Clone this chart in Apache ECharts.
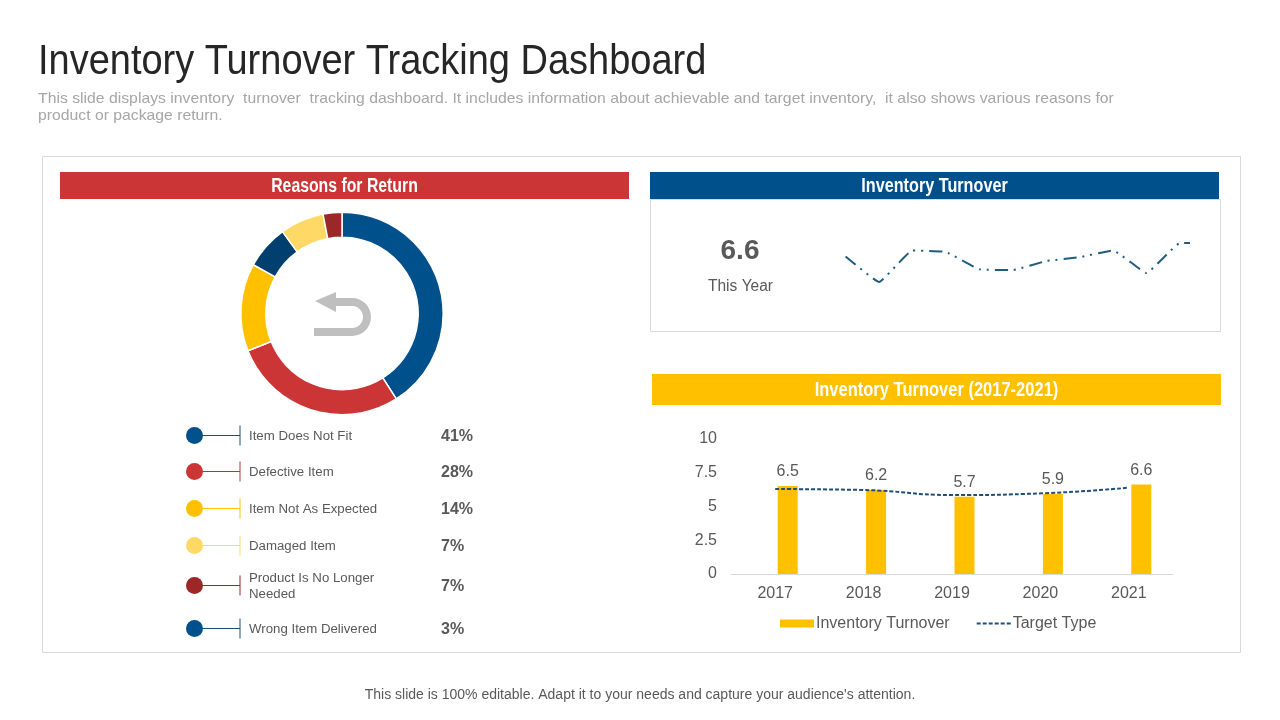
<![CDATA[<!DOCTYPE html>
<html>
<head>
<meta charset="utf-8">
<title>Inventory Turnover Tracking Dashboard</title>
<script src="https://cdn.jsdelivr.net/npm/echarts@6/dist/echarts.min.js"></script>
<style>
html, body { margin: 0; padding: 0; background: #fff; }
#chart { width: 1280px; height: 720px; }
</style>
</head>
<body>
<div id="chart"></div>
<script>
// return reasons
var reasonNames = ['Item Does Not Fit', 'Defective Item', 'Item Not As Expected', 'Damaged Item', 'Product Is No Longer\nNeeded', 'Wrong Item Delivered'];
var reasonValues = [41, 28, 14, 7, 7, 3];
var donutColors = ['#00508c', '#cc3535', '#ffc000', '#003f6e', '#ffd966', '#9c2727'];
var legendColors = ['#00508c', '#cc3535', '#ffc000', '#ffd966', '#9c2727', '#00508c'];
var stemColors = ['#1f4e79', '#a83a3a', '#ffc000', '#ffd966', '#8f2a2a', '#1f4e79'];

// inventory turnover, this year sparkline
var sparkValue = '6.6';
var sparkSteps = [0, 1, 2, 3, 4, 5, 6, 7, 8, 9, 10, 10.3];
var sparkValues = [5.7, 4.0, 6.1, 6.0, 4.85, 4.8, 5.4, 5.65, 6.1, 4.6, 6.6, 6.6];

// inventory turnover 2017-2021
var years = ['2017', '2018', '2019', '2020', '2021'];
var turnover = [6.5, 6.2, 5.7, 5.9, 6.6];
var targetType = [6.27, 6.2, 5.83, 5.95, 6.37];

var grey = '#595959';
var sans = '"Liberation Sans", Arial, sans-serif';

function label(x, y, text, size, opts) {
    opts = opts || {};
    var style = {
        text: text,
        fill: opts.color || grey,
        font: (opts.weight || 'normal') + ' ' + size + 'px ' + sans,
        textAlign: opts.align || 'left',
        textVerticalAlign: 'middle',
        lineHeight: opts.lineHeight || size * 1.2
    };
    if (opts.shadow) {
        style.shadowColor = 'rgba(0,0,0,0.55)';
        style.shadowBlur = 1;
        style.shadowOffsetX = 1;
        style.shadowOffsetY = 1;
    }
    return {type: 'text', x: x, y: y, scaleX: opts.scaleX || 1, style: style};
}

function box(x, y, w, h, fill, stroke) {
    return {
        type: 'rect',
        shape: {x: x, y: y, width: w, height: h},
        style: {fill: fill || 'none', stroke: stroke || 'none', lineWidth: 1}
    };
}

function header(x, y, w, h, fill, text, scale) {
    return [
        box(x, y, w, h, fill),
        label(x + w / 2, y + h / 2 + 1, text, 20, {weight: 'bold', color: '#fff', align: 'center', scaleX: scale, shadow: true})
    ];
}

var graphics = [
    label(38, 62, 'Inventory Turnover Tracking Dashboard', 42, {color: '#262626', scaleX: 0.904}),
    label(38, 99, 'This slide displays inventory  turnover  tracking dashboard. It includes information about achievable and target inventory,  it also shows various reasons for', 15, {color: '#a6a6a6', scaleX: 1.051}),
    label(38, 116, 'product or package return.', 15, {color: '#a6a6a6', scaleX: 1.05}),
    label(640, 695, "This slide is 100% editable. Adapt it to your needs and capture your audience's attention.", 14, {align: 'center'}),
    box(42.5, 156.5, 1198, 496, null, '#d9d9d9'),
    box(650.5, 199.5, 570, 132, null, '#d9d9d9')
];
graphics = graphics.concat(
    header(60, 172, 569, 27, '#cc3535', 'Reasons for Return', 0.79),
    header(650, 172, 569, 27, '#00508c', 'Inventory Turnover', 0.81),
    header(652, 374, 569, 31, '#ffc000', 'Inventory Turnover (2017-2021)', 0.825)
);

// return arrow in the middle of the donut
var arrowColor = '#bfbfbf';
graphics.push({
    type: 'polygon',
    shape: {points: [[315, 301], [336, 292], [336, 298], [352, 298], [352, 306], [336, 306], [336, 312]]},
    style: {fill: arrowColor}
});
graphics.push({
    type: 'sector',
    shape: {cx: 352, cy: 317, r0: 11, r: 19, startAngle: -Math.PI / 2, endAngle: Math.PI / 2},
    style: {fill: arrowColor}
});
graphics.push(box(314, 328, 38, 8, arrowColor));

graphics.push(label(740, 251, sparkValue, 28, {weight: 'bold', align: 'center'}));
graphics.push(label(740.5, 287, 'This Year', 16, {align: 'center', scaleX: 0.97}));

// legend rows under the donut
var rowY = [435, 471, 508, 545, 585, 628];
reasonNames.forEach(function (name, i) {
    var y = rowY[i] + 0.5;
    graphics.push({type: 'line', shape: {x1: 194, y1: y, x2: 240, y2: y}, style: {stroke: stemColors[i], lineWidth: 1}});
    graphics.push({type: 'line', shape: {x1: 240, y1: y - 10, x2: 240, y2: y + 10}, style: {stroke: stemColors[i], lineWidth: 1}});
    graphics.push({type: 'circle', shape: {cx: 194.5, cy: y, r: 8.5}, style: {fill: legendColors[i]}});
    graphics.push(label(249, y + 1, name, 12.5, {lineHeight: 16, scaleX: 1.06}));
    graphics.push(label(441, y + 1.5, reasonValues[i] + '%', 16, {weight: 'bold'}));
});

var option = {
    animation: false,
    backgroundColor: '#fff',
    textStyle: {fontFamily: sans},
    graphic: {elements: graphics},
    legend: {
        data: [{name: 'Inventory Turnover', icon: 'rect'}, {name: 'Target Type', itemStyle: {opacity: 0}}],
        left: 780,
        top: 615.5,
        itemWidth: 34,
        itemHeight: 8,
        itemGap: 26,
        padding: 0,
        textStyle: {color: grey, fontSize: 16, fontFamily: sans, padding: [0, 0, 0, -3]}
    },
    grid: [
        {left: 845.6, top: 240, width: 344.4, height: 45},
        {left: 731, top: 438.5, width: 442, height: 135.5}
    ],
    xAxis: [
        {type: 'value', gridIndex: 0, min: 0, max: 10.3, show: false},
        {
            type: 'category',
            gridIndex: 1,
            data: years,
            axisTick: {show: false},
            axisLine: {lineStyle: {color: '#d9d9d9'}},
            axisLabel: {color: grey, fontSize: 16, margin: 12}
        }
    ],
    yAxis: [
        {type: 'value', gridIndex: 0, min: 3.8, max: 6.8, show: false},
        {
            type: 'value',
            gridIndex: 1,
            min: 0,
            max: 10,
            interval: 2.5,
            splitLine: {show: false},
            axisLine: {show: false},
            axisTick: {show: false},
            axisLabel: {color: grey, fontSize: 16, margin: 14, padding: [3, 0, 0, 0]}
        }
    ],
    series: [
        {
            type: 'pie',
            center: [342, 313.5],
            radius: [76.2, 101.2],
            startAngle: 90,
            label: {show: false},
            emphasis: {disabled: true},
            itemStyle: {borderColor: '#fff', borderWidth: 1.5},
            data: reasonNames.map(function (name, i) {
                return {name: name, value: reasonValues[i], itemStyle: {color: donutColors[i]}};
            })
        },
        {
            type: 'line',
            xAxisIndex: 0,
            yAxisIndex: 0,
            data: sparkSteps.map(function (s, i) { return [s, sparkValues[i]]; }),
            smooth: 0.1,
            symbol: 'none',
            lineStyle: {color: '#1f5c80', width: 2, type: [13, 6, 2, 6, 2, 6]}
        },
        {
            // empty slot, it pushes the real bars right of the category centre
            name: 'Blank',
            type: 'bar',
            xAxisIndex: 1,
            yAxisIndex: 1,
            barWidth: 20,
            barGap: '25%',
            data: []
        },
        {
            name: 'Inventory Turnover',
            type: 'bar',
            xAxisIndex: 1,
            yAxisIndex: 1,
            barWidth: 20,
            barGap: '25%',
            itemStyle: {color: '#ffc000'},
            label: {show: true, position: 'top', color: grey, fontSize: 16, distance: 6},
            data: turnover
        },
        {
            name: 'Target Type',
            type: 'line',
            xAxisIndex: 1,
            yAxisIndex: 1,
            smooth: true,
            symbol: 'none',
            itemStyle: {color: '#1f4e79'},
            lineStyle: {color: '#1f4e79', width: 2, type: [4, 2]},
            data: targetType
        }
    ]
};

var chart = echarts.init(document.getElementById('chart'));
chart.setOption(option);
</script>
</body>
</html>
]]>
